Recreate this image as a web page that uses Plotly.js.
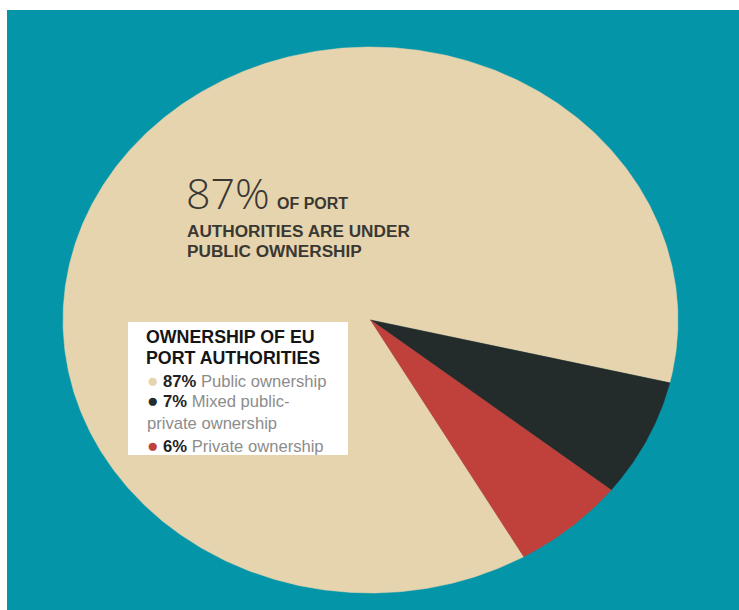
<!DOCTYPE html>
<html>
<head>
<meta charset="utf-8">
<script src="https://cdn.plot.ly/plotly-3.0.1.min.js"></script>
<style>html,body{margin:0;padding:0;background:#fff;}#chart{width:739px;height:610px;}</style>
</head>
<body>
<div id="chart"></div>
<script>
// ---- data ----
const labels = ["Public ownership", "Mixed public-private ownership", "Private ownership"];
const legendLabels = ["Public ownership", "Mixed public-<br>private ownership", "Private ownership"];
const values = [87, 7, 6];
const colors = ["#E6D4AE", "#232B2B", "#C0403B"];
const headerLines = ["OWNERSHIP OF EU", "PORT AUTHORITIES"];
const bigValue = "87%";
const bigLines = ["OF PORT", "AUTHORITIES ARE UNDER", "PUBLIC OWNERSHIP"];

// ---- layout helpers ----
const W = 739, H = 610, ML = 7, MT = 10;
const PW = W - ML, PH = H - MT;
const cx = 370.5, cy = 320, rx = 307.5, ry = 273; // ellipse in pixels
const xr = [-(cx - ML) / rx, (W - cx) / rx];
const yr = [-(H - cy) / ry, (cy - MT) / ry];
const px = v => (v - ML) / PW;
const py = v => 1 - (v - MT) / PH;

// wedges, clockwise, mixed ownership starts at -13.3 deg
const total = values.reduce((a, b) => a + b, 0);
const startMixed = -13.3;
const startPublic = startMixed + values[0] / total * 360;
const traces = [];
let ang = startPublic;
values.forEach((v, i) => {
  const span = v / total * 360;
  const n = Math.max(8, Math.ceil(span * 2));
  const xs = [0], ys = [0];
  for (let k = 0; k <= n; k++) {
    const a = (ang - span * k / n) * Math.PI / 180;
    xs.push(Math.cos(a)); ys.push(Math.sin(a));
  }
  xs.push(0); ys.push(0);
  traces.push({
    type: "scatter", mode: "lines", x: xs, y: ys, fill: "toself",
    fillcolor: colors[i], line: {width: 0.5, color: colors[i]},
    name: labels[i], hoverinfo: "name", showlegend: false
  });
  ang -= span;
});

const darkText = "#3A3833";
const annotations = [];
function ann(text, x, y, font, extra) {
  annotations.push(Object.assign({
    text: text, xref: "paper", yref: "paper", x: px(x), y: py(y),
    xanchor: "left", yanchor: "middle", showarrow: false, align: "left",
    font: font, borderpad: 0
  }, extra || {}));
}
// big statement
ann(bigValue, 185, 193, {family: "Open Sans", size: 43, color: darkText, weight: 300});
ann(bigLines[0], 276, 203, {family: "Liberation Sans", size: 16, color: darkText, weight: 700});
ann(bigLines[1], 186, 231, {family: "Liberation Sans", size: 17.2, color: darkText, weight: 700});
ann(bigLines[2], 186, 251, {family: "Liberation Sans", size: 17.2, color: darkText, weight: 700});

// legend box header
ann(headerLines[0], 145, 337, {family: "Liberation Sans", size: 17.8, color: "#151515", weight: 700});
ann(headerLines[1], 145, 358, {family: "Liberation Sans", size: 17.8, color: "#151515", weight: 700});
// legend items (each wrapped line is its own text)
const itemY = [380, 401, 445];
const lineStep = 22;
const legendFont = {family: "Liberation Sans", size: 16.6, color: "#8C8C8C"};
values.forEach((v, i) => {
  const parts = legendLabels[i].split("<br>");
  parts.forEach((p, j) => {
    const txt = j === 0
      ? '<span style="color:' + colors[i] + ';font-size:19px">●</span> <b><span style="color:#222">' + v + '%</span></b> ' + p
      : p;
    ann(txt, 146, itemY[i] + j * lineStep, legendFont);
  });
});

const layout = {
  width: W, height: H,
  margin: {l: ML, r: 0, t: MT, b: 0, pad: 0},
  paper_bgcolor: "#FFFFFF",
  plot_bgcolor: "#0595A9",
  xaxis: {range: xr, visible: false, fixedrange: true},
  yaxis: {range: yr, visible: false, fixedrange: true},
  shapes: [{
    type: "rect", xref: "paper", yref: "paper", layer: "above",
    x0: px(128), x1: px(348), y0: py(455), y1: py(322),
    fillcolor: "#FFFFFF", line: {width: 0}
  }],
  annotations: annotations,
  showlegend: false
};
Plotly.newPlot("chart", traces, layout, {displayModeBar: false, staticPlot: true});
</script>
</body>
</html>
